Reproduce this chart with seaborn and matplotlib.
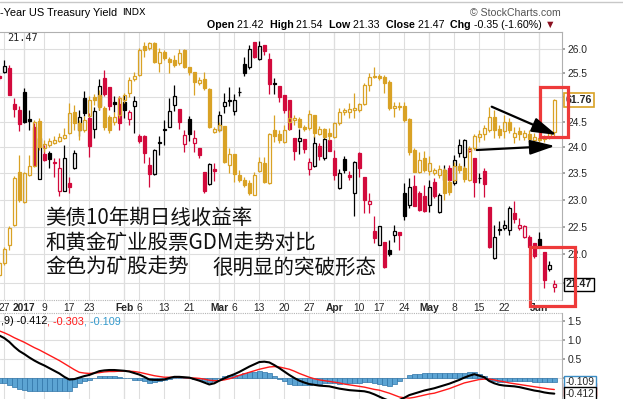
import numpy as np
import pandas as pd
import matplotlib
matplotlib.use("Agg")
import matplotlib.pyplot as plt
import seaborn as sns
from matplotlib.patches import Rectangle
from matplotlib.lines import Line2D
from matplotlib.ticker import NullLocator

W, H = 623, 399

# trading days on screen: 2016-12-23 .. 2017-06-06
holidays = ["2016-12-26", "2017-01-02", "2017-01-16", "2017-02-20", "2017-04-14", "2017-05-29"]
days = pd.bdate_range("2016-12-23", "2017-06-06")
days = days[~days.isin(pd.to_datetime(holidays))]

tick_dates = ["2016-12-27", "2017-01-03", "2017-01-09", "2017-01-17", "2017-01-23", "2017-02-01",
              "2017-02-06", "2017-02-13", "2017-02-21", "2017-03-01", "2017-03-06", "2017-03-13",
              "2017-03-20", "2017-03-27", "2017-04-03", "2017-04-10", "2017-04-17", "2017-04-24",
              "2017-05-01", "2017-05-08", "2017-05-15", "2017-05-22", "2017-06-01"]
tick_text = ["27", "2017", "9", "17", "23", "Feb", "6", "13", "21", "Mar", "6", "13",
             "20", "27", "Apr", "10", "17", "24", "May", "8", "15", "22", "Jun"]
month_text = ["2017", "Feb", "Mar", "Apr", "May", "Jun"]

# right axis labels (21.5 and 25.0 sit under the value tags)
yield_ticks = [21.5, 22.0, 22.5, 23.0, 23.5, 24.0, 24.5, 25.0, 25.5, 26.0]
yield_tick_text = ["", "22.0", "22.5", "23.0", "23.5", "24.0", "24.5", "", "25.5", "26.0"]
macd_ticks = [0.0, 0.5, 1.0, 1.5]
macd_tick_text = ["", "0.5", "1.0", "1.5"]

# $TNX daily candles
tnx_prev_close = 25.60
tnx_open = [25.44, 25.51, 25.61, 24.87, 24.75, 25.11, 24.56, 24.40, 23.39, 23.87,
            23.90, 23.72, 23.17, 23.17, 23.32, 23.61, 24.34, 24.98, 24.58, 24.36,
            24.82, 25.39, 25.20, 24.91, 24.86, 24.90, 24.56, 24.83, 24.23, 24.22,
            23.66, 23.49, 24.10, 24.37, 24.40, 24.85, 24.77, 24.06, 24.56, 24.08,
            23.99, 23.53, 23.30, 23.59, 24.35, 24.83, 24.93, 24.73, 25.11, 25.69,
            25.63, 26.15, 25.79, 26.09, 25.79, 25.29, 25.23, 25.05, 24.95, 24.18,
            24.13, 24.17, 23.58, 23.65, 24.03, 23.80, 24.15, 23.80, 23.23, 23.77,
            23.46, 23.13, 23.89, 23.44, 22.93, 22.42, 22.17, 22.23, 22.08, 22.36,
            22.40, 23.13, 22.90, 23.26, 23.13, 23.08, 22.90, 23.34, 22.78, 23.38,
            23.61, 23.32, 23.89, 23.82, 23.93, 23.79, 23.42, 23.55, 22.87, 21.94,
            22.46, 22.48, 22.45, 22.76, 22.48, 22.32, 22.32, 22.20, 22.27, 22.05,
            21.74, 21.42]
tnx_high = [25.48, 25.77, 25.67, 24.98, 24.82, 25.18, 24.75, 24.48, 24.22, 24.05,
            23.93, 23.79, 23.79, 24.05, 23.44, 23.96, 24.75, 25.13, 24.68, 24.80,
            25.37, 25.56, 25.20, 25.02, 25.02, 25.05, 24.75, 25.02, 24.27, 24.25,
            23.82, 23.98, 24.22, 24.55, 24.98, 25.25, 24.77, 24.35, 24.63, 24.35,
            23.99, 23.53, 23.70, 23.70, 24.72, 25.08, 25.20, 25.07, 25.20, 25.83,
            26.09, 26.16, 26.17, 26.09, 25.91, 25.40, 25.23, 25.05, 24.95, 24.18,
            24.36, 24.17, 23.80, 24.22, 24.08, 24.22, 24.15, 23.95, 23.58, 23.84,
            23.55, 23.73, 23.92, 23.44, 23.12, 22.69, 22.51, 22.23, 22.26, 22.54,
            22.40, 23.32, 23.41, 23.47, 23.16, 23.28, 23.38, 23.42, 23.13, 23.66,
            23.66, 23.86, 24.17, 24.17, 24.00, 23.79, 23.51, 23.60, 22.87, 22.54,
            22.60, 22.63, 22.88, 22.97, 22.66, 22.54, 22.35, 22.20, 22.40, 22.05,
            21.89, 21.54]
tnx_low = [25.36, 25.49, 25.05, 24.60, 24.32, 24.48, 24.34, 23.66, 23.39, 23.73,
           23.61, 23.44, 23.08, 23.17, 23.13, 23.58, 24.22, 24.63, 23.81, 24.18,
           24.75, 25.03, 24.75, 24.70, 24.35, 24.58, 24.45, 24.28, 24.09, 23.70,
           23.25, 23.47, 23.85, 24.05, 24.40, 24.72, 24.37, 23.92, 24.12, 23.92,
           23.80, 23.13, 23.28, 23.35, 24.35, 24.68, 24.82, 24.64, 25.02, 25.44,
           25.58, 25.81, 25.76, 25.88, 25.07, 25.06, 24.90, 24.68, 24.35, 23.76,
           23.87, 23.89, 23.46, 23.63, 23.76, 23.76, 23.94, 23.38, 23.20, 23.51,
           23.38, 22.69, 23.44, 22.75, 22.75, 22.20, 22.17, 21.76, 21.97, 22.23,
           22.08, 22.63, 22.84, 22.89, 22.80, 22.78, 22.78, 23.04, 22.76, 23.28,
           23.34, 23.28, 23.82, 23.61, 23.92, 23.06, 23.32, 23.06, 22.11, 21.91,
           22.36, 22.45, 22.36, 22.57, 22.45, 22.29, 22.14, 21.94, 22.14, 21.41,
           21.70, 21.33]
tnx_close = [25.40, 25.64, 25.05, 24.77, 24.46, 24.50, 24.53, 23.66, 24.18, 23.75,
             23.78, 23.70, 23.61, 23.79, 23.25, 23.89, 24.60, 24.68, 24.02, 24.73,
             25.23, 25.07, 24.83, 24.86, 24.48, 24.74, 24.70, 24.92, 24.12, 23.89,
             23.49, 23.95, 24.08, 24.34, 24.72, 25.03, 24.50, 24.24, 24.26, 24.18,
             23.85, 23.16, 23.68, 23.55, 24.65, 24.90, 24.94, 24.95, 25.10, 25.50,
             26.00, 25.83, 26.07, 25.95, 25.27, 25.28, 25.00, 24.74, 24.36, 23.94,
             24.18, 23.98, 23.71, 24.08, 23.84, 24.16, 23.94, 23.47, 23.51, 23.56,
             23.44, 23.71, 23.60, 23.00, 22.97, 22.30, 22.51, 21.78, 22.00, 22.42,
             22.35, 22.69, 23.25, 22.89, 22.81, 22.79, 23.25, 23.08, 23.09, 23.57,
             23.38, 23.76, 24.05, 24.15, 23.98, 23.33, 23.41, 23.29, 22.14, 22.32,
             22.45, 22.54, 22.84, 22.64, 22.54, 22.51, 22.14, 21.97, 22.14, 21.55,
             21.82, 21.47]

# GDM overlay candles (gold)
gdm_open = [53.01, 53.61, 54.51, 55.51, 58.16, 56.66, 58.01, 58.46, 60.73, 59.36,
            59.51, 59.63, 59.73, 59.85, 60.10, 61.18, 60.60, 60.26, 60.96, 61.93,
            62.01, 61.35, 60.91, 60.68, 61.01, 61.76, 62.10, 62.80, 63.01, 64.48,
            64.35, 64.60, 63.60, 64.18, 63.80, 63.76, 63.60, 64.26, 63.43, 63.18,
            62.60, 62.80, 62.30, 60.15, 60.26, 60.46, 58.51, 59.06, 58.01, 57.76,
            57.60, 57.01, 58.23, 58.60, 57.60, 60.26, 60.05, 59.68, 60.68, 60.76,
            60.80, 60.43, 60.35, 61.01, 60.06, 60.31, 60.11, 59.93, 60.60, 61.15,
            61.18, 61.26, 61.26, 61.56, 62.51, 62.98, 62.98, 62.93, 62.68, 61.35,
            61.40, 61.48, 60.80, 59.26, 58.18, 58.86, 58.21, 58.13, 58.01, 58.26,
            57.66, 57.76, 58.46, 58.36, 57.76, 59.35, 59.93, 60.06, 60.26, 60.90,
            60.30, 60.23, 60.68, 59.90, 60.23, 59.90, 60.06, 59.76, 59.85, 59.80,
            59.90, 60.18]
gdm_high = [53.71, 54.41, 55.46, 57.96, 59.01, 58.16, 59.01, 60.76, 60.86, 59.76,
            59.86, 59.96, 60.11, 60.36, 61.61, 61.51, 60.76, 60.96, 61.96, 62.06,
            62.26, 61.46, 61.01, 61.16, 61.96, 62.11, 62.93, 63.18, 64.35, 64.68,
            64.68, 64.68, 64.35, 64.26, 63.93, 64.01, 64.30, 64.30, 63.43, 63.18,
            62.93, 63.18, 62.36, 60.43, 60.66, 60.46, 59.35, 59.06, 58.26, 57.93,
            57.76, 58.18, 58.93, 58.93, 60.10, 61.01, 60.26, 60.51, 61.26, 61.01,
            60.91, 60.51, 61.26, 61.01, 60.46, 60.36, 60.36, 60.66, 61.36, 61.36,
            61.60, 62.10, 61.61, 62.61, 63.10, 63.43, 63.06, 63.01, 62.76, 61.68,
            61.66, 61.68, 60.86, 59.36, 59.16, 59.21, 58.96, 58.36, 58.51, 58.36,
            57.76, 58.66, 58.61, 58.46, 59.46, 60.06, 60.26, 60.51, 61.43, 61.26,
            60.51, 61.01, 60.85, 60.43, 60.43, 60.26, 60.26, 60.10, 59.96, 60.01,
            60.26, 61.81]
gdm_low = [52.91, 53.51, 54.26, 55.46, 56.66, 56.61, 57.96, 58.41, 59.26, 59.16,
           59.41, 59.56, 59.66, 59.81, 60.06, 60.26, 59.76, 60.16, 60.91, 61.51,
           61.26, 60.26, 60.11, 60.51, 60.86, 61.61, 61.93, 62.71, 62.96, 63.93,
           64.26, 63.60, 63.18, 63.76, 63.10, 63.41, 63.51, 63.36, 63.01, 62.01,
           62.51, 62.26, 60.36, 60.10, 60.16, 58.60, 58.10, 57.68, 57.68, 57.43,
           57.01, 57.01, 58.18, 57.60, 57.56, 59.68, 59.60, 59.60, 60.26, 60.51,
           60.36, 60.21, 60.26, 59.93, 60.01, 59.86, 59.76, 59.86, 60.51, 61.01,
           60.85, 60.85, 61.16, 61.51, 62.23, 62.85, 62.76, 62.13, 61.26, 60.93,
           61.26, 60.66, 59.01, 58.16, 58.11, 58.16, 58.01, 58.01, 57.86, 56.76,
           57.01, 57.66, 58.11, 57.66, 57.71, 59.26, 59.68, 59.76, 60.18, 59.85,
           59.85, 59.85, 60.11, 59.60, 59.76, 59.76, 59.68, 59.60, 59.66, 59.68,
           59.81, 59.93]
gdm_close = [53.61, 54.31, 55.36, 57.86, 56.76, 58.11, 58.46, 60.68, 59.43, 59.56,
             59.71, 59.76, 59.90, 60.01, 61.10, 60.60, 60.26, 60.76, 61.76, 61.76,
             61.43, 60.43, 60.26, 60.90, 61.85, 62.01, 62.76, 62.96, 64.26, 64.26,
             64.60, 63.68, 64.18, 63.85, 63.68, 63.51, 64.13, 63.43, 63.18, 62.68,
             62.76, 62.35, 60.43, 60.31, 60.51, 58.68, 59.06, 58.06, 57.76, 57.51,
             57.10, 58.01, 58.65, 57.68, 60.05, 59.96, 59.76, 60.26, 60.85, 60.88,
             60.43, 60.30, 61.05, 60.10, 60.30, 59.93, 59.96, 60.60, 61.18, 61.26,
             61.30, 61.38, 61.56, 62.51, 62.90, 62.90, 62.86, 62.63, 61.35, 61.48,
             61.48, 60.76, 59.16, 58.18, 58.76, 58.26, 58.61, 58.26, 58.31, 57.10,
             57.16, 58.46, 58.26, 57.81, 59.35, 59.96, 60.06, 60.35, 60.90, 60.26,
             60.01, 60.68, 60.26, 60.13, 60.06, 60.13, 59.80, 59.90, 59.76, 59.93,
             60.13, 61.76]

# MACD(12,26,9)
macd_line = [1.12, 1.05, 0.95, 0.82, 0.71, 0.63, 0.54, 0.46, 0.39, 0.33,
             0.26, 0.19, 0.12, 0.03, -0.04, -0.03, 0.01, 0.05, 0.08, 0.13,
             0.18, 0.20, 0.21, 0.21, 0.20, 0.19, 0.17, 0.13, 0.09, 0.03,
             -0.04, -0.05, -0.05, -0.04, 0.00, 0.03, 0.03, 0.02, 0.01, -0.03,
             -0.07, -0.12, -0.17, -0.14, -0.07, -0.01, 0.05, 0.10, 0.16, 0.23,
             0.30, 0.36, 0.42, 0.43, 0.41, 0.34, 0.26, 0.17, 0.08, 0.00,
             -0.07, -0.12, -0.16, -0.18, -0.20, -0.21, -0.22, -0.25, -0.28, -0.30,
             -0.32, -0.33, -0.34, -0.35, -0.38, -0.43, -0.49, -0.55, -0.60, -0.62,
             -0.58, -0.52, -0.45, -0.41, -0.37, -0.33, -0.30, -0.27, -0.23, -0.19,
             -0.15, -0.10, -0.05, 0.01, 0.06, 0.10, 0.06, 0.02, -0.08, -0.14,
             -0.18, -0.20, -0.21, -0.22, -0.24, -0.27, -0.30, -0.33, -0.35, -0.38,
             -0.40, -0.412]
macd_signal = [1.24, 1.19, 1.13, 1.06, 1.00, 0.94, 0.87, 0.80, 0.74, 0.67,
               0.60, 0.53, 0.46, 0.38, 0.30, 0.22, 0.15, 0.13, 0.12, 0.13,
               0.14, 0.16, 0.17, 0.17, 0.18, 0.18, 0.18, 0.17, 0.15, 0.12,
               0.09, 0.06, 0.04, 0.02, 0.02, 0.02, 0.02, 0.01, 0.00, 0.00,
               -0.01, -0.03, -0.06, -0.07, -0.07, -0.05, -0.02, 0.02, 0.07, 0.11,
               0.15, 0.19, 0.23, 0.26, 0.29, 0.30, 0.29, 0.26, 0.23, 0.18,
               0.12, 0.07, 0.02, -0.02, -0.05, -0.07, -0.09, -0.11, -0.13, -0.16,
               -0.18, -0.20, -0.22, -0.24, -0.27, -0.30, -0.32, -0.36, -0.40, -0.45,
               -0.50, -0.52, -0.53, -0.51, -0.48, -0.45, -0.42, -0.40, -0.36, -0.32,
               -0.28, -0.23, -0.18, -0.13, -0.10, -0.07, -0.04, -0.03, -0.03, -0.05,
               -0.08, -0.10, -0.13, -0.15, -0.17, -0.19, -0.21, -0.23, -0.25, -0.27,
               -0.29, -0.303]

RED = "#D20A3C"
GOLD = "#D9A225"
BLUE_FILL = "#5CA4D3"
BLUE_EDGE = "#2F74A8"

sns.set_theme(style="white")
plt.rcParams["font.family"] = ["Liberation Sans", "DejaVu Sans"]
CJK = ["Noto Sans CJK SC", "DejaVu Sans"]

fig = plt.figure(figsize=(W / 100, H / 100), dpi=100)


def fx(px):
    return px / W


def fy(py):
    return 1 - py / H


x = np.arange(len(days))
tick_pos = days.get_indexer(pd.to_datetime(tick_dates))
month_pos = [p for p, t in zip(tick_pos, tick_text) if t in month_text]
XLIM = (0.14, 112.54)

ax = fig.add_axes([0, fy(300), fx(562), (300 - 31.7) / H])
axg = ax.twinx()
axm = fig.add_axes([0, 0, fx(562), (H - 313) / H])


def candles(a, o, h, l, c, edge, face, w=0.7, lw=0.9):
    o, h, l, c = map(np.asarray, (o, h, l, c))
    top = np.maximum(o, c)
    bot = np.minimum(o, c)
    a.vlines(x, top, h, colors=edge, lw=lw, zorder=3)
    a.vlines(x, l, bot, colors=edge, lw=lw, zorder=3)
    a.bar(x, top - bot, w, bot, color=face, edgecolor=edge, linewidth=lw, zorder=3)


# ---- main panel: yield candles (log scale, right axis)
o = np.array(tnx_open)
c = np.array(tnx_close)
prev = np.r_[tnx_prev_close, c[:-1]]
edge = np.where(c >= prev, "black", RED)
face = np.where(c >= o, "none", edge)
candles(ax, tnx_open, tnx_high, tnx_low, tnx_close, edge, face)

ax.set_yscale("log")
ax.set_ylim(21.20, 26.37)
ax.set_yticks(yield_ticks)
ax.set_yticklabels(yield_tick_text)
ax.yaxis.set_minor_locator(NullLocator())
ax.tick_params(axis="y", which="both", left=False, labelleft=False,
               right=True, labelright=True, length=2.5, pad=1.5, labelsize=7.4,
               color="#999999")
ax.set_xlim(*XLIM)
ax.set_xticks(tick_pos)
ax.set_xticklabels(tick_text)
for lbl in ax.get_xticklabels():
    if lbl.get_text() in month_text:
        lbl.set_fontweight("bold")
        lbl.set_fontsize(8.2)
ax.tick_params(axis="x", length=0, pad=2.5, labelsize=7.4)
ax.grid(True, color="#dedede", lw=0.8)
ax.set_axisbelow(True)
for p in month_pos:
    ax.axvline(p, color="#bdbdbd", lw=0.8, zorder=0.5)
for s in ["left", "bottom"]:
    ax.spines[s].set_visible(False)
for s in ["top", "right"]:
    ax.spines[s].set_color("#b0b0b0")
    ax.spines[s].set_linewidth(0.8)

# ---- GDM overlay on its own hidden scale
axg.set_ylim(51.76, 65.175)
axg.set_xlim(*XLIM)
axg.yaxis.set_visible(False)
for s in axg.spines.values():
    s.set_visible(False)
go = np.array(gdm_open)
gc = np.array(gdm_close)
gface = np.where(gc >= go, "none", GOLD)
candles(axg, gdm_open, gdm_high, gdm_low, gdm_close, GOLD, gface)

# last-value tags
axg.annotate("61.76", xy=(1, gdm_close[-1]), xycoords=("axes fraction", "data"),
             xytext=(2.5, 0), textcoords="offset points", ha="left", va="center",
             fontsize=7.6, fontweight="bold", annotation_clip=False, zorder=6,
             bbox=dict(boxstyle="square,pad=0.18", fc="white", ec=GOLD, lw=1.2))
ax.annotate("21.47", xy=(1, tnx_close[-1]), xycoords=("axes fraction", "data"),
            xytext=(2.5, 0), textcoords="offset points", ha="left", va="center",
            fontsize=7.6, fontweight="bold", annotation_clip=False, zorder=6,
            bbox=dict(boxstyle="square,pad=0.18", fc="white", ec="black", lw=1.0))

# red highlight boxes and arrows
axg.add_patch(Rectangle((108.14, 59.895), 5.66, 2.53, fill=False, ec="#EE3A3A",
                        lw=2.3, clip_on=False, zorder=7))
ax.add_patch(Rectangle((106.14, 21.089), 9.0, 1.036, fill=False, ec="#EE3A3A",
                       lw=2.3, clip_on=False, zorder=7))
arrow = dict(arrowstyle="-|>,head_length=0.95,head_width=0.28", color="black",
             lw=1.6, mutation_scale=16, shrinkA=0, shrinkB=0)
axg.annotate("", xy=(111.48, 60.01), xytext=(98.48, 61.425), arrowprops=arrow,
             annotation_clip=False, zorder=8)
axg.annotate("", xy=(111.14, 59.46), xytext=(95.48, 59.26), arrowprops=arrow,
             annotation_clip=False, zorder=8)

# ---- MACD panel
hist = np.round(np.array(macd_line) - np.array(macd_signal), 3)
axm.bar(x, hist, 1.0, color=BLUE_FILL, edgecolor=BLUE_EDGE, linewidth=0.5, zorder=2)
sns.lineplot(x=x, y=macd_signal, ax=axm, color="#FF1A1A", lw=1.0, zorder=3)
sns.lineplot(x=x, y=macd_line, ax=axm, color="black", lw=1.5, zorder=4)
axm.set_xlim(*XLIM)
axm.set_ylim(-0.553, 1.711)
axm.set_xticks(tick_pos)
axm.set_xticklabels([])
axm.set_yticks(macd_ticks)
axm.set_yticklabels(macd_tick_text)
axm.tick_params(axis="x", length=0)
axm.tick_params(axis="y", left=False, labelleft=False, right=True, labelright=True,
                length=2.5, pad=1.5, labelsize=7.4, color="#999999")
axm.grid(True, color="#dedede", lw=0.8)
axm.set_axisbelow(True)
for p in month_pos:
    axm.axvline(p, color="#bdbdbd", lw=0.8, zorder=0.5)
for s in ["left", "bottom", "top"]:
    axm.spines[s].set_visible(False)
axm.spines["right"].set_color("#b0b0b0")
axm.spines["right"].set_linewidth(0.8)
axm.set_xlabel("")
axm.set_ylabel("")
for val, txt, ec in [(macd_signal[-1], "-0.303", "#FF1A1A"),
                     (hist[-1], "-0.109", "#3A8CC4"),
                     (macd_line[-1], "-0.412", "black")]:
    axm.annotate(txt, xy=(1, val), xycoords=("axes fraction", "data"),
                 xytext=(2.5, 0), textcoords="offset points", ha="left", va="center",
                 fontsize=7.4, annotation_clip=False, zorder=6,
                 bbox=dict(boxstyle="square,pad=0.15", fc="white", ec=ec, lw=1.0))

# ---- frame lines
for py in (300, 313):
    fig.add_artist(Line2D([0, fx(562)], [fy(py), fy(py)], transform=fig.transFigure,
                          color="#b5b5b5", lw=0.8, ls=(0, (1, 1))))
fig.add_artist(Line2D([0, 1], [fy(1.5), fy(1.5)], transform=fig.transFigure,
                      color="#c8c8c8", lw=1.0))

renderer = fig.canvas.get_renderer()


def chain(px, py, parts, size):
    for s, w, col in parts:
        t = fig.text(fx(px), fy(py), s, fontsize=size, fontweight=w, color=col, va="center")
        px += t.get_window_extent(renderer).width


# ---- header texts
fig.text(fx(0), fy(12.5), "-Year US Treasury Yield", fontsize=7.9, va="center", color="black")
fig.text(fx(122), fy(12.5), "INDX", fontsize=6.8, va="center", family="DejaVu Sans", color="black")
fig.text(fx(561), fy(13), "© StockCharts.com", fontsize=7.6, va="center", ha="right", color="#555555")
chain(207, 25, [("Open ", "bold", "black"), ("21.42  ", "normal", "black"),
                ("High ", "bold", "black"), ("21.54  ", "normal", "black"),
                ("Low ", "bold", "black"), ("21.33  ", "normal", "black"),
                ("Close ", "bold", "black"), ("21.47  ", "normal", "black"),
                ("Chg ", "bold", "black"), ("-0.35 (-1.60%) ", "normal", "black"),
                ("▼", "normal", "#8B1020")], 7.7)
fig.text(fx(7), fy(38), "21.47", fontsize=7.4, va="center", family="DejaVu Sans Mono")
chain(1, 321, [(",9) -0.412", "normal", "black"), (", -0.303", "normal", "#FF1A1A"),
               (", -0.109", "normal", "#3399CC")], 7.8)

# ---- annotation text
fig.text(fx(45), fy(218.3), "美债10年期日线收益率", fontsize=14.8, family=CJK,
         va="center", color="#111111")
fig.text(fx(45), fy(242.7), "和黄金矿业股票GDM走势对比", fontsize=14.8, family=CJK,
         va="center", color="#111111")
fig.text(fx(45), fy(267.3), "金色为矿股走势", fontsize=14.8, family=CJK,
         va="center", color="#111111")
fig.text(fx(212), fy(267.3), "很明显的突破形态", fontsize=14.8, family=CJK,
         va="center", color="#111111")

fig.savefig("out.png", dpi=100)
